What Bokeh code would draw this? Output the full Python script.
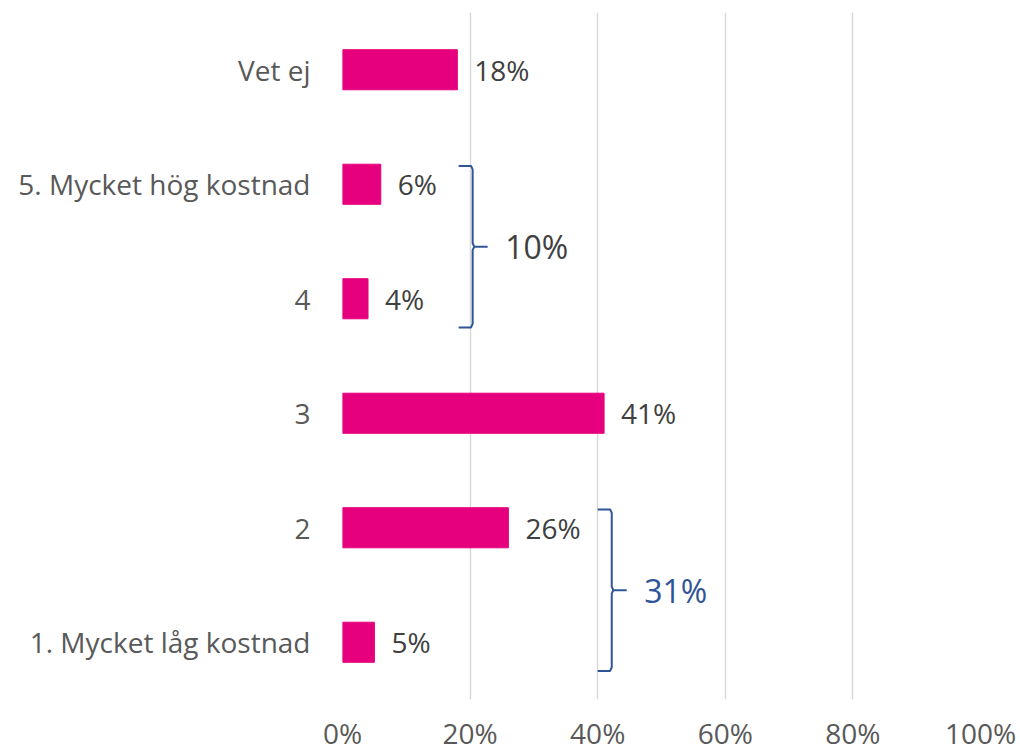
from bokeh.plotting import figure
from bokeh.models import Range1d, FixedTicker, ColumnDataSource
from bokeh.core.properties import value
from bokeh.embed import file_html
from bokeh.resources import INLINE

# ---- data ----
categories = ["1. Mycket låg kostnad", "2", "3", "4", "5. Mycket hög kostnad", "Vet ej"]
values = [5, 26, 41, 4, 6, 18]
x_ticks = [0, 20, 40, 60, 80, 100]
x_tick_labels = ["0%", "20%", "40%", "60%", "80%", "100%"]
# summary groups (indices into categories) and their labels
group_members = [[0, 1], [3, 4]]
group_labels = ["31%", "10%"]

# ---- style ----
FONT = "Open Sans"
BAR_COLOR = "#E6007E"
NAVY = "#2F5597"
GRAY_TXT = "#404040"
AXIS_TXT = "#595959"
group_text_colors = [NAVY, GRAY_TXT]
bracket_x = [42.2, 20.4]   # horizontal position of the braces (layout)

idx = list(range(len(categories)))

p = figure(width=1020, height=754, output_backend="svg", toolbar_location=None,
           x_range=Range1d(0, 100), y_range=Range1d(-0.5, len(categories) - 0.5),
           min_border_left=342, min_border_right=40, min_border_top=12, min_border_bottom=51)
p.outline_line_color = None
p.background_fill_color = "white"
p.border_fill_color = "white"

src = ColumnDataSource(dict(y=idx, v=values, lab=[f"{v}%" for v in values]))
p.hbar(y="y", left=0, right="v", height=0.35, color=BAR_COLOR, source=src)
p.text(x="v", y="y", text="lab", source=src, x_offset=17, text_align="left",
       text_baseline="middle", text_font=value(FONT), text_font_size="28px",
       text_color=GRAY_TXT)

# braces
for members, lab, xb, tc in zip(group_members, group_labels, bracket_x, group_text_colors):
    lo, hi = min(members), max(members)
    top = hi + 0.16
    bot = lo - 0.25
    mid = (top + bot) / 2
    serif = 2.2
    tip = 2.35
    r = 0.25
    ry = 0.03
    xs_top = [xb - serif, xb - r, xb, xb, xb + r, xb + tip]
    ys_top = [top, top, top - ry, mid + ry, mid, mid]
    xs_bot = [xb - serif, xb - r, xb, xb, xb + r]
    ys_bot = [bot, bot, bot + ry, mid - ry, mid]
    p.multi_line(xs=[xs_top, xs_bot], ys=[ys_top, ys_bot], line_color=NAVY, line_width=2)
    p.text(x=[xb + 5.1], y=[mid], text=[lab], text_align="left", text_baseline="middle",
           text_font=value(FONT), text_font_size="32px", text_color=tc)

# axes
p.xaxis.ticker = FixedTicker(ticks=x_ticks)
p.xaxis.major_label_overrides = {t: l for t, l in zip(x_ticks, x_tick_labels)}
p.yaxis.ticker = FixedTicker(ticks=idx)
p.yaxis.major_label_overrides = {i: c for i, c in zip(idx, categories)}
for ax in (p.xaxis, p.yaxis):
    ax.axis_line_color = None
    ax.major_tick_line_color = None
    ax.minor_tick_line_color = None
    ax.major_tick_out = 0
    ax.major_tick_in = 0
    ax.major_label_text_font = FONT
    ax.major_label_text_font_size = "28px"
    ax.major_label_text_color = AXIS_TXT
p.xaxis.major_label_standoff = 14
p.yaxis.major_label_standoff = 32

p.xgrid.ticker = FixedTicker(ticks=x_ticks)
p.xgrid.grid_line_color = "#D9D9D9"
p.xgrid.grid_line_width = 1.5
p.ygrid.grid_line_color = None

open("out.html", "w").write(file_html(p, INLINE))
